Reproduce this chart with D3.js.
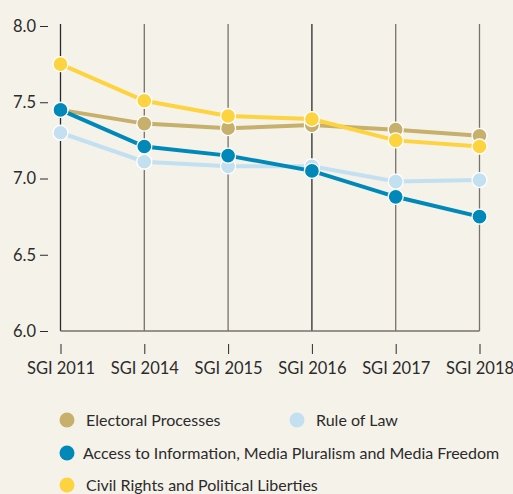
<!DOCTYPE html>
<html>
<head>
<meta charset="utf-8">
<script src="https://cdn.jsdelivr.net/npm/d3@7"></script>
<style>
  html, body { margin: 0; padding: 0; background: #f5f2ea; }
  svg { display: block; font-family: Lato, "Open Sans", sans-serif; }
</style>
</head>
<body>
<svg id="chart" width="513" height="494"></svg>
<script>
var years = ["SGI 2011", "SGI 2014", "SGI 2015", "SGI 2016", "SGI 2017", "SGI 2018"];
var yTicks = [6.0, 6.5, 7.0, 7.5, 8.0];

var electoral = [7.45, 7.36, 7.33, 7.35, 7.32, 7.28];
var ruleOfLaw = [7.30, 7.11, 7.08, 7.08, 6.98, 6.99];
var access = [7.45, 7.21, 7.15, 7.05, 6.88, 6.75];
var civil = [7.75, 7.51, 7.41, 7.39, 7.25, 7.21];

var seriesNames = ["Electoral Processes", "Rule of Law",
  "Access to Information, Media Pluralism and Media Freedom",
  "Civil Rights and Political Liberties"];
var seriesColors = ["#c6b06c", "#c2e0f0", "#0089b8", "#fdd33f"];
var seriesValues = [electoral, ruleOfLaw, access, civil];
var drawOrder = [1, 0, 2, 3];

var svg = d3.select("#chart");

var x = d3.scalePoint().domain(years).range([60.5, 479.5]);
var y = d3.scaleLinear().domain([6, 8]).range([331, 26]);

// vertical guides
svg.append("g").selectAll("line")
  .data(years).enter().append("line")
  .attr("x1", function(d){ return x(d); })
  .attr("x2", function(d){ return x(d); })
  .attr("y1", 24).attr("y2", 331)
  .attr("stroke", function(d, i){ return (i == 0 || i == 3) ? "#2b2b2b" : "#77726c"; })
  .attr("stroke-width", 1.3);

// baseline
svg.append("line")
  .attr("x1", x(years[0])).attr("x2", x(years[years.length-1]))
  .attr("y1", y(6)).attr("y2", y(6))
  .attr("stroke", "#77726c").attr("stroke-width", 1.5);

// y axis
var yAxis = svg.append("g")
  .attr("transform", "translate(48,0)")
  .call(d3.axisLeft(y).tickValues(yTicks).tickFormat(d3.format(".1f")).tickSize(8).tickPadding(4));
yAxis.select(".domain").remove();
yAxis.selectAll(".tick line").attr("stroke", "#2b2b2b");
yAxis.selectAll("text").attr("fill", "#2b2b2b").style("font-size", "16.5px").style("font-family", "Lato");

// x axis
var xAxis = svg.append("g")
  .attr("transform", "translate(0,344)")
  .call(d3.axisBottom(x).tickSize(10).tickPadding(8));
xAxis.select(".domain").remove();
xAxis.selectAll(".tick line").attr("stroke", "#2b2b2b");
xAxis.selectAll("text").attr("fill", "#2b2b2b").style("font-size", "16.5px").style("font-family", "Lato");

var line = d3.line()
  .x(function(d, i){ return x(years[i]); })
  .y(function(d){ return y(d); });

drawOrder.forEach(function(s){
  var g = svg.append("g");
  g.append("path")
    .attr("d", line(seriesValues[s]))
    .attr("fill", "none")
    .attr("stroke", seriesColors[s])
    .attr("stroke-width", 4);
  g.selectAll("circle")
    .data(seriesValues[s]).enter().append("circle")
    .attr("cx", function(d, i){ return x(years[i]); })
    .attr("cy", function(d){ return y(d); })
    .attr("r", 7.5)
    .attr("fill", seriesColors[s])
    .attr("stroke", "#ffffff")
    .attr("stroke-width", 1.3);
});

// legend
var legendPos = [[67, 420], [297, 420], [67, 453], [67, 485]];
var legend = svg.append("g");
seriesNames.forEach(function(name, i){
  var p = legendPos[i];
  legend.append("circle")
    .attr("cx", p[0]).attr("cy", p[1]).attr("r", 7.5)
    .attr("fill", seriesColors[i]);
  legend.append("text")
    .attr("x", p[0] + (i == 2 ? 16 : 19)).attr("y", p[1] + 5.5)
    .attr("fill", "#2b2b2b")
    .style("font-size", "16px")
    .text(name);
});
</script>
</body>
</html>
